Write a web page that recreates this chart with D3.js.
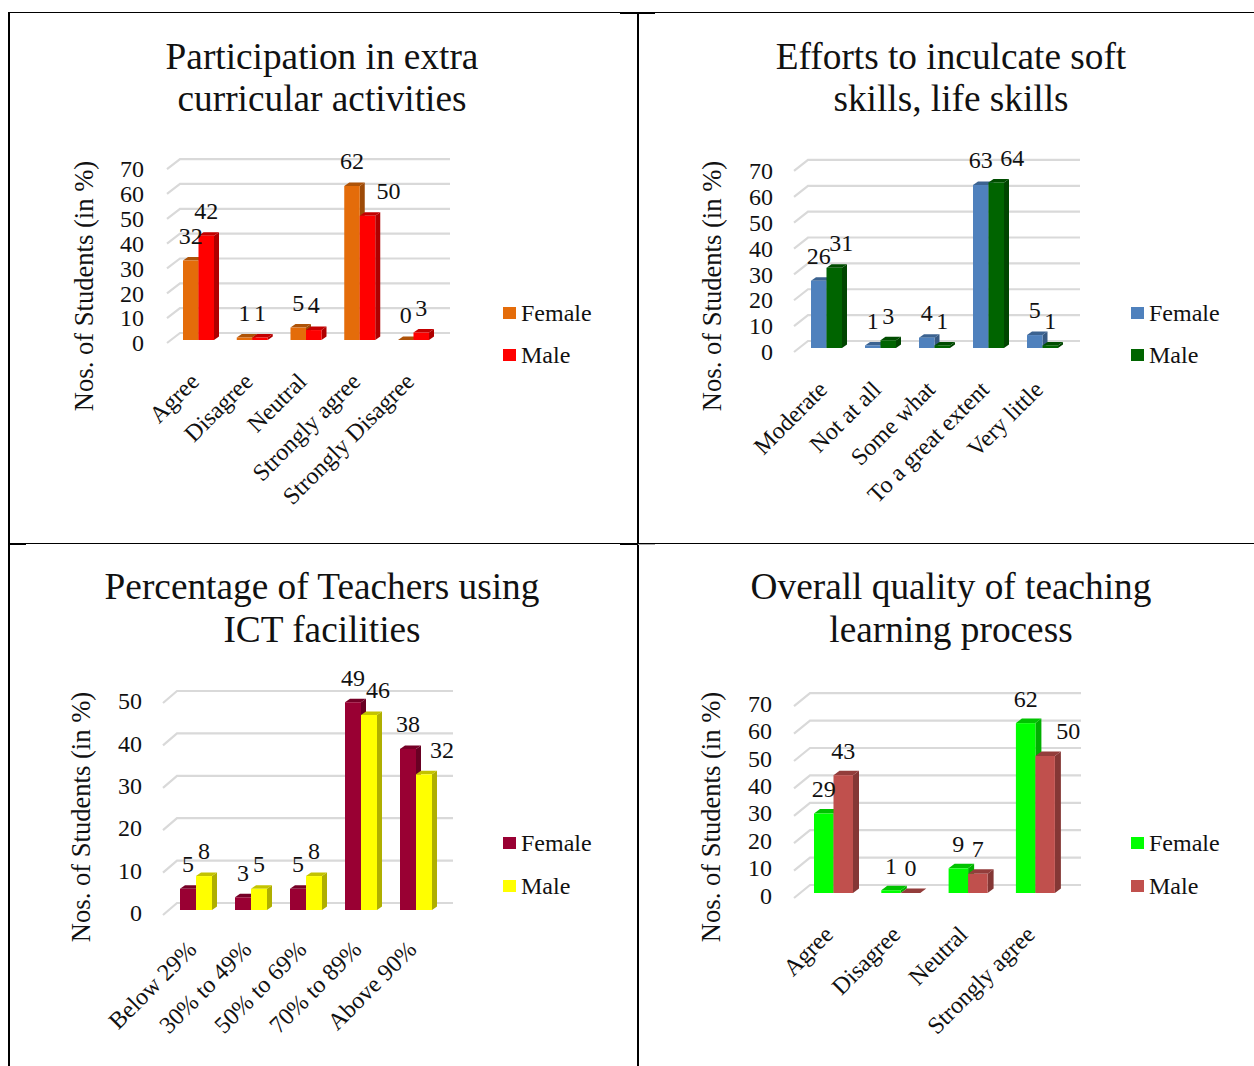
<!DOCTYPE html>
<html><head><meta charset="utf-8">
<script src="https://cdn.jsdelivr.net/npm/d3@7"></script>
<style>
html,body{margin:0;padding:0;background:#fff}
svg{display:block}
text{font-family:"Liberation Serif","Times New Roman",serif;fill:#111}
</style></head><body>
<svg id="c" width="1254" height="1066"></svg>
<script>
// ---- data ----
const seriesNames = ["Female", "Male"];
const axisTitle = "Nos. of Students (in %)";

const titleA = ["Participation in extra", "curricular activities"];
const catsA = ["Agree", "Disagree", "Neutral", "Strongly agree", "Strongly Disagree"];
const femaleA = [32, 1, 5, 62, 0];
const maleA = [42, 1, 4, 50, 3];

const titleB = ["Efforts to inculcate soft", "skills, life skills"];
const catsB = ["Moderate", "Not at all", "Some what", "To a great extent", "Very little"];
const femaleB = [26, 1, 4, 63, 5];
const maleB = [31, 3, 1, 64, 1];

const titleC = ["Percentage of Teachers using", "ICT facilities"];
const catsC = ["Below 29%", "30% to 49%", "50% to 69%", "70% to 89%", "Above 90%"];
const femaleC = [5, 3, 5, 49, 38];
const maleC = [8, 5, 8, 46, 32];

const titleD = ["Overall quality of teaching", "learning process"];
const catsD = ["Agree", "Disagree", "Neutral", "Strongly agree"];
const femaleD = [29, 1, 9, 62];
const maleD = [43, 0, 7, 50];

// ---- layout (not data) ----
const panels = [
 {title:titleA,cats:catsA,f:femaleA,m:maleA,colors:["#E46C0A","#FF0000"],max:70,step:10,
  base:340,k:2.484,x0:183,stepX:53.75,w:31,d:[5,3.5],
  grid:{l:167,b:180,r:450,dy:7,sl:10},tickX:144,tickDy:3,tx:322,ty:[69,111],axX:84,axY:286,
  catY:377,catDx:-4,legX:503,legY:[313,355],nudge:{"1-3":21}},
 {title:titleB,cats:catsB,f:femaleB,m:maleB,colors:["#4F81BD","#006400"],max:70,step:10,
  base:348,k:2.587,x0:811,stepX:54,w:31,d:[5,3.5],
  grid:{l:794,b:808,r:1080,dy:7,sl:11},tickX:773,tickDy:4,tx:951,ty:[69,111],axX:712,axY:286,
  catY:385,catDx:-4,legX:1131,legY:[313,355],nudge:{"1-0":7,"1-3":16}},
 {title:titleC,cats:catsC,f:femaleC,m:maleC,colors:["#990033","#FFFF00"],max:50,step:10,
  base:910,k:4.24,x0:180,stepX:55,w:32,d:[5,3.5],
  grid:{l:163,b:177,r:453,dy:7,sl:12},tickX:142,tickDy:3,tx:322,ty:[599,642],axX:81,axY:817,
  catY:945,catDx:-4,legX:503,legY:[843,886],nudge:{"1-3":9,"1-4":18}},
 {title:titleD,cats:catsD,f:femaleD,m:maleD,colors:["#00FF00","#C0504D"],max:70,step:10,
  base:893,k:2.74,x0:814,stepX:67.3,w:39,d:[6,4.5],
  grid:{l:794,b:810,r:1081,dy:8,sl:13},tickX:772,tickDy:2.5,tx:951,ty:[599,642],axX:711,axY:817,
  catY:930,catDx:-5,legX:1131,legY:[843,886],nudge:{"1-3":23}}
];

const svg = d3.select("#c");

// frame
const frame = svg.append("g").attr("stroke","#000");
[[9,12,9,1066,2,"#000"],[638,12,638,1066,2,"#000"],[9,12.5,1254,12.5,1,"#000"],[9,543.5,1254,543.5,1,"#000"],
 [620,13,655,13,2,"#000"],[9,544,26,544,2,"#000"],[620,544,638,544,2,"#000"],[638,544.5,655,544.5,1,"#aaa"]].forEach(a=>{
  frame.append("line").attr("x1",a[0]).attr("y1",a[1]).attr("x2",a[2]).attr("y2",a[3]).attr("stroke-width",a[4]).attr("stroke",a[5]);
});

panels.forEach(p=>{
  const g = svg.append("g");
  const n = p.cats.length;
  const pad = (p.stepX-p.w)/p.stepX;
  const r0 = p.x0-(p.stepX-p.w)/2;
  const x = d3.scaleBand().domain(p.cats).range([r0,r0+n*p.stepX]).paddingInner(pad).paddingOuter(pad/2);
  const xs = d3.scaleBand().domain(seriesNames).range([0,x.bandwidth()]);
  const y = d3.scaleLinear().domain([0,p.max]).range([p.base,p.base-p.max*p.k]);
  const ticks = d3.range(0,p.max+1,p.step);

  // title
  g.append("text").attr("text-anchor","middle").attr("font-size",37.3)
    .selectAll("tspan").data(p.title).join("tspan")
    .attr("x",p.tx).attr("y",(d,i)=>p.ty[i]).text(d=>d);

  // grid
  g.append("g").selectAll("path").data(ticks).join("path")
    .attr("fill","none").attr("stroke","#d9d9d9").attr("stroke-width",2.2)
    .attr("d",t=>{const yb=y(t)-p.grid.dy;
      return d3.line()([[p.grid.l,yb+p.grid.sl],[p.grid.b,yb],[p.grid.r,yb]]);});

  // y axis
  const ax = g.append("g").attr("transform",`translate(${p.tickX},${p.tickDy})`)
    .call(d3.axisLeft(y).tickValues(ticks).tickSize(0).tickPadding(0));
  ax.select(".domain").remove();
  ax.selectAll("text").attr("font-size",24).attr("font-family",'"Liberation Serif"').attr("fill","#111");

  // axis title
  g.append("text").attr("transform",`translate(${p.axX},${p.axY}) rotate(-90)`)
    .attr("text-anchor","middle").attr("dy","0.33em").attr("font-size",26.6).text(axisTitle);

  // x axis labels
  const xa = g.append("g").attr("transform",`translate(${p.catDx},${p.catY})`)
    .call(d3.axisBottom(x).tickSize(0).tickPadding(0));
  xa.select(".domain").remove();
  xa.selectAll("text").attr("font-size",24).attr("font-family",'"Liberation Serif"').attr("fill","#111")
    .attr("text-anchor","end").attr("dy","0.35em").attr("y",0)
    .attr("transform","rotate(-45)");

  // bars
  const [dx,dy] = p.d;
  const rows = [];
  p.cats.forEach((c,i)=>{ rows.push({c,i,s:0,v:p.f[i]}); rows.push({c,i,s:1,v:p.m[i]}); });
  const bars = g.append("g").selectAll("g").data(rows).join("g");
  const X = d=>x(d.c)+xs(seriesNames[d.s]);
  const bw = xs.bandwidth();
  bars.append("path").attr("fill",d=>d3.rgb(p.colors[d.s]).darker(1.05))
    .attr("d",d=>{const l=X(d)+bw,t=y(d.v),b=y(0);
      return `M${l},${t}L${l+dx},${t-dy}L${l+dx},${b-dy}L${l},${b}Z`;});
  bars.append("path").attr("fill",d=>d3.rgb(p.colors[d.s]).darker(0.75))
    .attr("d",d=>{const l=X(d),t=y(d.v);
      return `M${l},${t}L${l+dx},${t-dy}L${l+bw+dx},${t-dy}L${l+bw},${t}Z`;});
  bars.append("rect").attr("fill",d=>p.colors[d.s])
    .attr("x",X).attr("width",bw).attr("y",d=>y(d.v)).attr("height",d=>y(0)-y(d.v));

  // value labels
  g.append("g").selectAll("text").data(rows).join("text")
    .attr("text-anchor","middle").attr("dy","0.35em").attr("font-size",24)
    .attr("x",d=>X(d)+bw/2+(p.nudge[d.s+"-"+d.i]||0))
    .attr("y",d=>y(d.v)-25)
    .text(d=>d.v);

  // legend
  const lg = g.append("g").selectAll("g").data(seriesNames).join("g")
    .attr("transform",(d,i)=>`translate(${p.legX},${p.legY[i]})`);
  lg.append("rect").attr("y",-6).attr("width",13).attr("height",12).attr("fill",(d,i)=>p.colors[i]);
  lg.append("text").attr("x",18).attr("dy","0.35em").attr("font-size",24).text(d=>d);
});
</script>
</body></html>
